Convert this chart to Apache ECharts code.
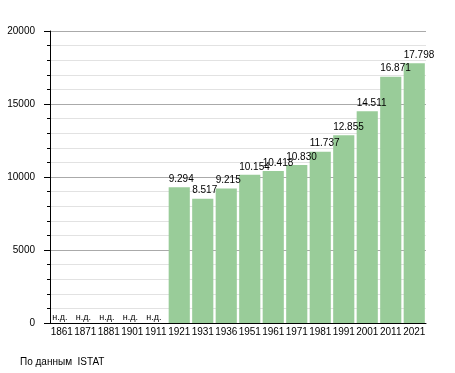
<!DOCTYPE html>
<html><head><meta charset="utf-8">
<script src="https://cdn.jsdelivr.net/npm/echarts@6/dist/echarts.min.js"></script>
<style>html,body{margin:0;padding:0;background:#fff}#c{width:455px;height:373px}</style>
</head><body><div id="c"></div>
<script>
const years = ['1861','1871','1881','1901','1911','1921','1931','1936','1951','1961','1971','1981','1991','2001','2011','2021'];
const population = [null,null,null,null,null,9294,8517,9215,10154,10418,10830,11737,12855,14511,16871,17798];
const noDataLabel = 'н.д.';
const sourceText = 'По данным  ISTAT';
const yTicks = [0,5000,10000,15000,20000];

const font = "'Liberation Sans', Arial, sans-serif";
const fmt = v => String(v).replace(/\B(?=(\d{3})+(?!\d))/g, '.');

const data = population.map(v => v == null
  ? {value: 0, label: {formatter: noDataLabel, fontSize: 9, position: [1, -10]}}
  : {value: v});

const chart = echarts.init(document.getElementById('c'), null, {renderer: 'canvas'});
chart.setOption({
  animation: false,
  textStyle: {fontFamily: font},
  grid: {left: 50, right: 29, top: 31, bottom: 50, containLabel: false},
  xAxis: {
    type: 'category', data: years,
    axisLine: {lineStyle: {color: '#000', width: 1}},
    axisTick: {show: false},
    axisLabel: {color: '#000', fontSize: 10, fontFamily: font, margin: 4, interval: 0,
      hideOverlap: false, overflow: 'none'}
  },
  yAxis: {
    type: 'value', min: yTicks[0], max: yTicks[yTicks.length-1], interval: 5000,
    axisLine: {show: true, lineStyle: {color: '#000', width: 1}},
    axisTick: {show: true, length: 6, lineStyle: {color: '#000'}},
    minorTick: {show: true, splitNumber: 5, length: 3, lineStyle: {color: '#000'}},
    axisLabel: {color: '#000', fontSize: 10, margin: 15, formatter: v => String(v)},
    splitLine: {show: true, lineStyle: {color: '#aaaaaa', width: 1}},
    minorSplitLine: {show: true, lineStyle: {color: '#e2e2e2', width: 1}}
  },
  series: [{
    type: 'bar', data: data,
    barCategoryGap: '10%',
    itemStyle: {color: '#99cc99'},
    label: {show: true, position: [0, -13], color: '#000', fontSize: 10,
      formatter: p => fmt(p.value)}
  }],
  graphic: [{type: 'text', left: 20, top: 357,
    style: {text: sourceText, fill: '#000', fontSize: 10, fontFamily: font}}]
});
</script></body></html>
